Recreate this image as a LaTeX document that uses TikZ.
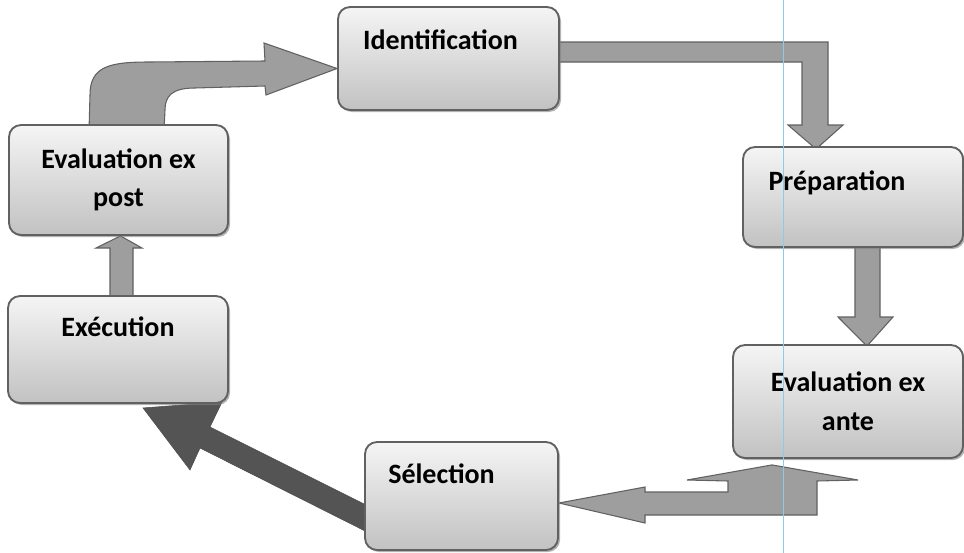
\documentclass[tikz,border=0pt]{standalone}
\usepackage{fontspec}
\setmainfont{Carlito}
\usepackage{tikz}
\usetikzlibrary{calc,shadows,backgrounds}
\definecolor{scanline}{RGB}{140,205,228}

\begin{document}
\begin{tikzpicture}[x=0.75pt,y=-0.75pt,
    box/.style={draw=black!62,line width=1.4pt,rounded corners=9pt,top color=black!4,bottom color=black!24,
      drop shadow={shadow xshift=1.5pt,shadow yshift=-1.5pt,fill=black!50,opacity=0.6},
      font=\fontsize{21}{29}\selectfont\bfseries,align=center,inner sep=0pt},
    oneline/.style={text height=14.5pt,text depth=#1},
    blockarrow/.style={fill=black!38,draw=black!62,line width=0.8pt},
    darkarrow/.style={fill=black!67,draw=black!70,line width=0.4pt}]
  \useasboundingbox (0,0) rectangle (964,553);
  \node[box,oneline=27.3pt,minimum width=165.75pt,minimum height=77.25pt] (idf) at (448.5,58.5) {Identification\hspace*{12pt}};
  \node[box,minimum width=164.25pt,minimum height=82.5pt] (expost) at (118.5,180) {Evaluation ex\\post};
  \node[box,oneline=25pt,minimum width=165pt,minimum height=75pt] (prep) at (853,197) {Préparation\hspace*{24pt}};
  \node[box,oneline=33.3pt,minimum width=165pt,minimum height=80.25pt] (exec) at (118,349.5) {Exécution};
  \node[box,minimum width=172.5pt,minimum height=84.75pt] (exante) at (848,401.5) {Evaluation ex\\ante};
  \node[box,oneline=34pt,minimum width=144.75pt,minimum height=81pt] (sel) at (461.5,496) {Sélection\hspace*{30pt}};
  \begin{scope}[on background layer]
    \draw[blockarrow] ($(expost.north west)+(81,5)$) -- (90,95) .. controls (90,66) and (110,62) .. (150,62) -- (265,61) -- (264,43)
      -- ($(idf.west)+(0,10)$) -- (266,95) -- (265,86) -- (195,88) .. controls (172,88) and (165,96) .. (165,110) -- ($(expost.north west)+(156,5)$) -- cycle;
    \draw[blockarrow] ($(idf.east)+(-5,-16.5)$) -- (828,42) -- (828,125) -- (843,125) -- ($(prep.north)+(-37,3)$) -- (788,125) -- (802,125) -- (802,62)
      -- ($(idf.east)+(-5,3.5)$) -- cycle;
    \draw[blockarrow] ($(prep.south)+(2,-5)$) -- (855,317) -- (838,317) -- ($(exante.north)+(19,2)$) -- (893,317) -- (880,317) -- ($(prep.south)+(27,-5)$) -- cycle;
    \draw[blockarrow] ($(exante.south)+(-76,6)$) -- (858,480) -- (817,481) -- (817,515) -- (645,515) -- (645,523) -- ($(sel.east)+(0,7)$)
      -- (645,487) -- (645,492) -- (728,492) -- (728,481) -- (687,480) -- cycle;
    \draw[darkarrow] ($(sel.west)+(11,13.5)$) -- (210,427) -- (222,402) -- ($(exec.south)+(25,4)$) -- (190,470) -- (200,448) -- ($(sel.west)+(2,35.5)$) -- cycle;
    \draw[blockarrow] ($(exec.north)+(-8,5)$) -- (110,248) -- (96,248) -- ($(expost.south)+(2,0)$) -- (142,248) -- (133,248) -- ($(exec.north)+(15,5)$) -- cycle;
  \end{scope}
  \draw[scanline,line width=0.6pt] (783,0) -- (783,553);
\end{tikzpicture}
\end{document}
